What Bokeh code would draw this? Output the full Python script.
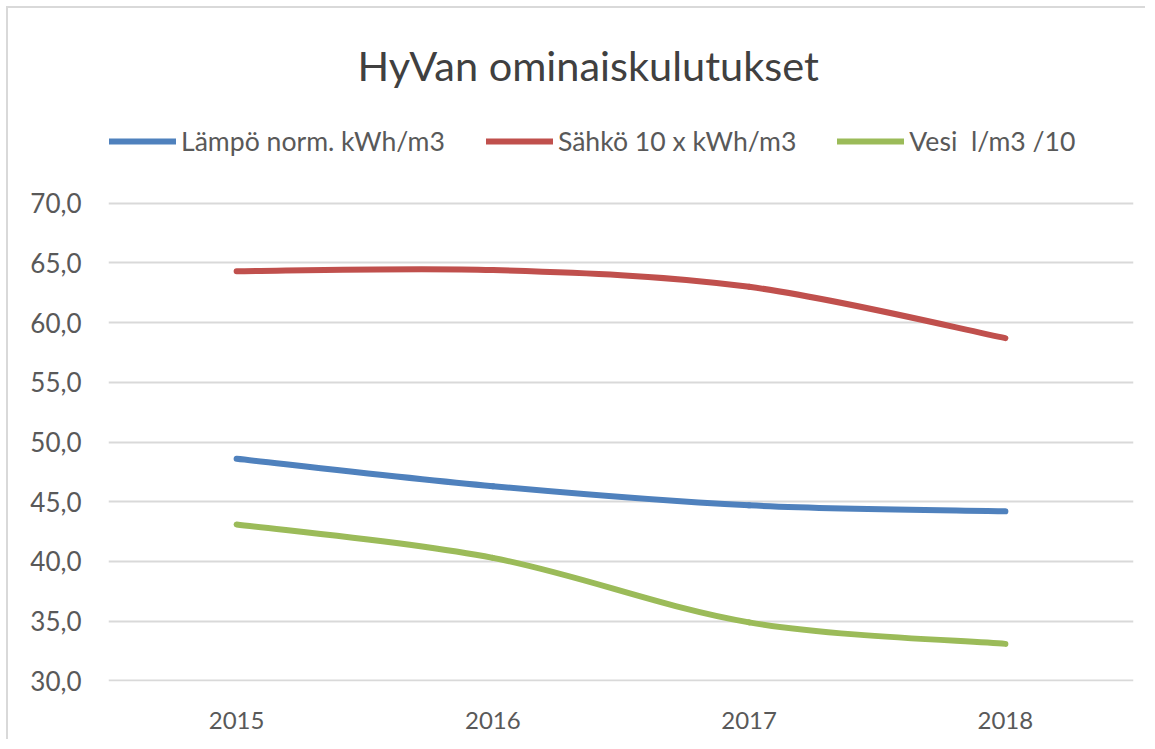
import numpy as np
from bokeh.plotting import figure
from bokeh.models import Range1d, FixedTicker, Legend, LegendItem
from bokeh.embed import file_html
from bokeh.resources import INLINE

# ---- data ----
years = ["2015", "2016", "2017", "2018"]
lampo = [48.6, 46.3, 44.7, 44.2]
sahko = [64.3, 64.4, 63.0, 58.7]
vesi = [43.1, 40.3, 34.9, 33.1]
series_names = ["Lämpö norm. kWh/m3", "Sähkö 10 x kWh/m3", "Vesi  l/m3 /10"]
y_ticks = [30, 35, 40, 45, 50, 55, 60, 65, 70]
y_tick_labels = ["30,0", "35,0", "40,0", "45,0", "50,0", "55,0", "60,0", "65,0", "70,0"]
title_text = "HyVan ominaiskulutukset"

colors = ["#4F81BD", "#C0504D", "#9BBB59"]
FONT = "Lato"
TXT = "#595959"

p = figure(width=1139, height=733, output_backend="svg", toolbar_location=None,
           x_range=Range1d(-0.5, 3.5), y_range=Range1d(29.95, 78.6),
           min_border_left=100, min_border_right=14, min_border_bottom=60,
           min_border_top=92)
p.styles = {"border-left": "2px solid #d9d9d9", "border-top": "2px solid #d9d9d9",
            "margin-left": "6px", "margin-top": "6px"}
p.outline_line_color = None
p.background_fill_color = "white"
p.border_fill_color = "white"

p.title.text = title_text
p.title.align = "left"
p.title.offset = 249
p.title.text_font = FONT
p.title.text_font_size = "41.5px"
p.title.text_font_style = "normal"
p.title.text_color = "#404040"
p.title.standoff = 22

xs = list(range(len(years)))


def bezier_segments(x, y):
    n = len(x)
    pts = list(zip(x, y))
    out = dict(x0=[], y0=[], x1=[], y1=[], cx0=[], cy0=[], cx1=[], cy1=[])
    for i in range(n - 1):
        pm = pts[max(i - 1, 0)]
        p0 = pts[i]
        p1 = pts[i + 1]
        p2 = pts[min(i + 2, n - 1)]
        out["x0"].append(p0[0]); out["y0"].append(p0[1])
        out["x1"].append(p1[0]); out["y1"].append(p1[1])
        out["cx0"].append(p0[0] + (p1[0] - pm[0]) / 6)
        out["cy0"].append(p0[1] + (p1[1] - pm[1]) / 6)
        out["cx1"].append(p1[0] - (p2[0] - p0[0]) / 6)
        out["cy1"].append(p1[1] - (p2[1] - p0[1]) / 6)
    return out


items = []
for name, ys, c in zip(series_names, [lampo, sahko, vesi], colors):
    seg = bezier_segments(xs, ys)
    r = p.bezier(x0="x0", y0="y0", x1="x1", y1="y1", cx0="cx0", cy0="cy0",
                 cx1="cx1", cy1="cy1", source=seg, line_color=c, line_width=6,
                 line_cap="round")
    items.append(LegendItem(label=name, renderers=[r], index=0))

legend = Legend(items=items, orientation="horizontal", location=(1, 524),
                label_text_font=FONT, label_text_font_size="26.6px",
                label_text_color=TXT, glyph_width=67, glyph_height=20,
                label_standoff=5, spacing=41, padding=0, margin=0,
                border_line_color=None, background_fill_alpha=0)
p.add_layout(legend)

p.xaxis.ticker = FixedTicker(ticks=xs)
p.xaxis.major_label_overrides = {i: y for i, y in enumerate(years)}
p.yaxis.ticker = FixedTicker(ticks=y_ticks)
p.yaxis.major_label_overrides = {t: l for t, l in zip(y_ticks, y_tick_labels)}

for ax in (p.xaxis, p.yaxis):
    ax.axis_line_color = None
    ax.major_tick_line_color = None
    ax.minor_tick_line_color = None
    ax.major_label_text_font = FONT
    ax.major_label_text_color = TXT
p.xaxis.major_label_text_font_size = "24px"
p.yaxis.major_label_text_font_size = "26px"
p.yaxis.major_label_standoff = 21
p.xaxis.major_label_standoff = 24

p.xgrid.grid_line_color = None
p.ygrid.grid_line_color = "#d9d9d9"
p.ygrid.grid_line_width = 2

open("out.html", "w").write(file_html(p, INLINE))
